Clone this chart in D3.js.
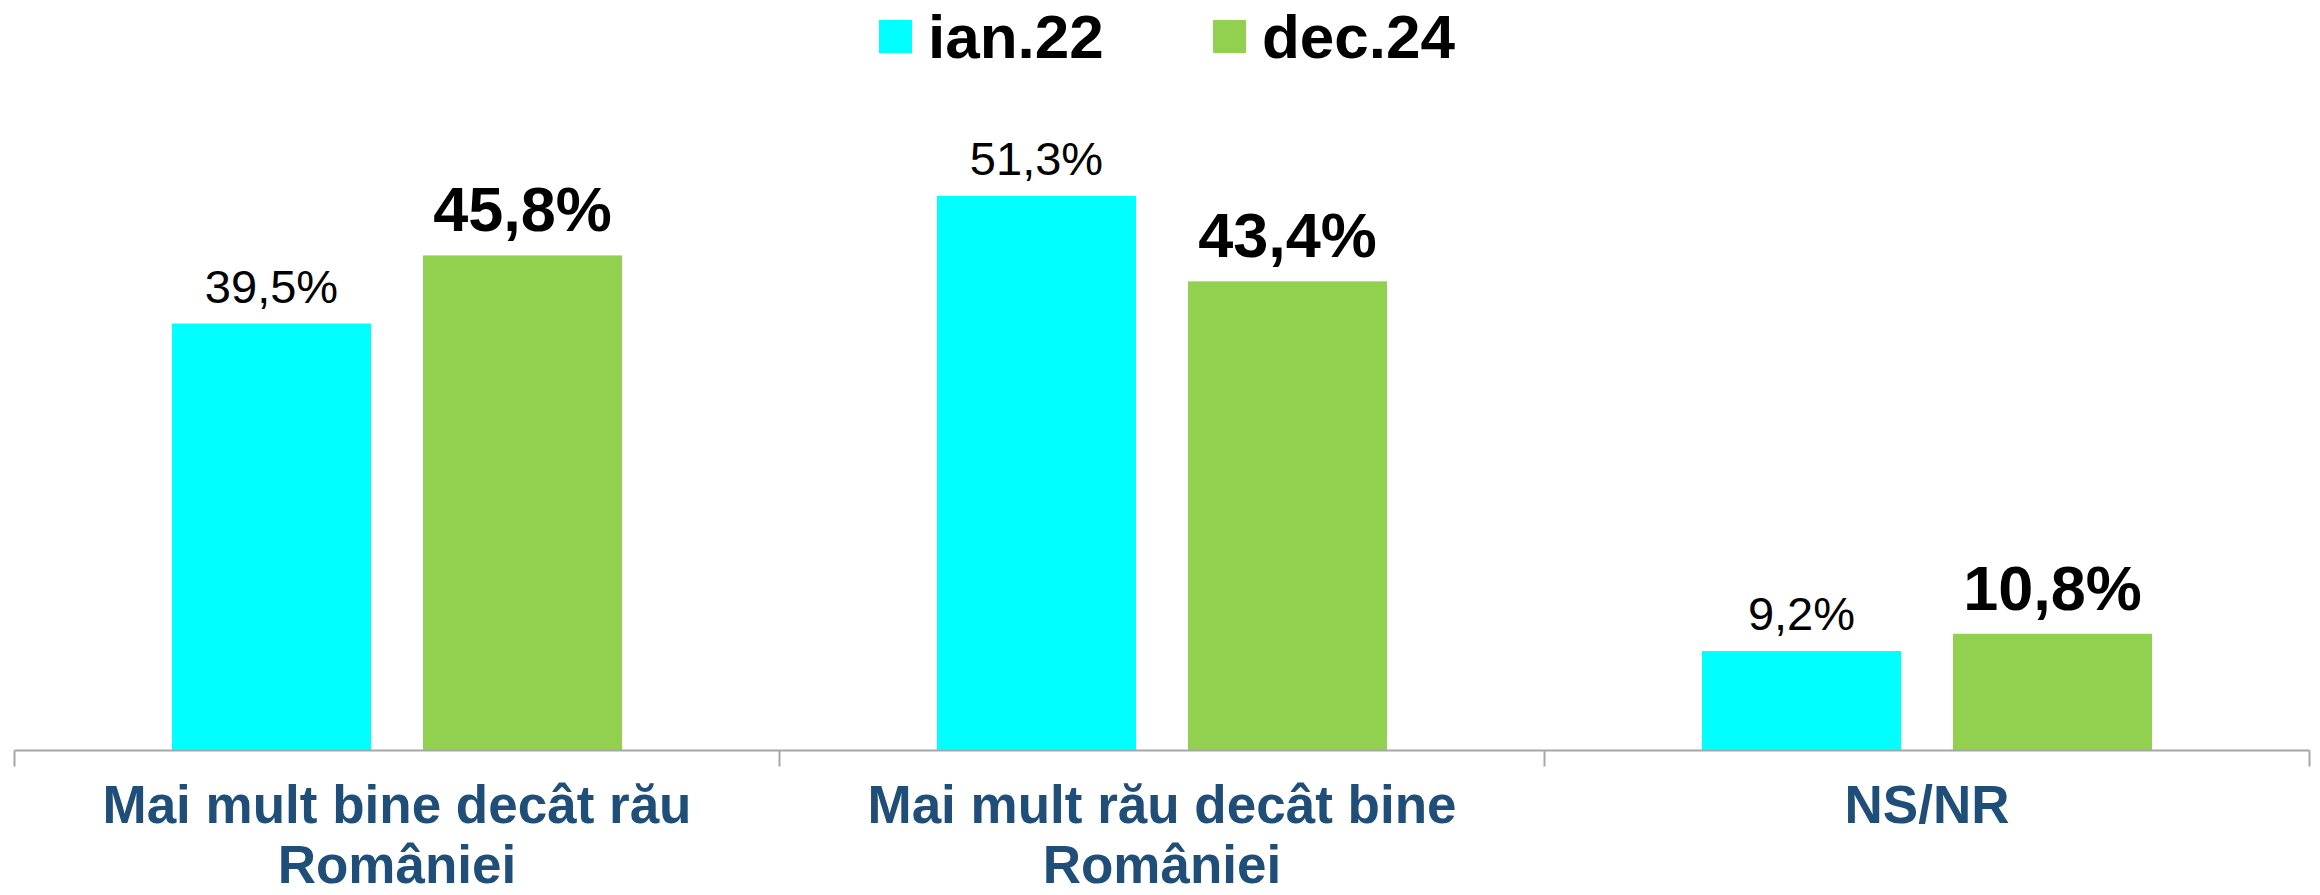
<!DOCTYPE html>
<html>
<head>
<meta charset="utf-8">
<script src="https://cdn.jsdelivr.net/npm/d3@7"></script>
<style>
  html, body { margin: 0; padding: 0; background: #fff; }
  svg { display: block; }
  text { font-family: "Liberation Sans", Arial, sans-serif; }
</style>
</head>
<body>
<svg id="chart" width="2320" height="895"></svg>
<script>
// ---- Data ----
const categories = [
  ["Mai mult bine decât rău", "României"],
  ["Mai mult rău decât bine", "României"],
  ["NS/NR"]
];
const series = ["ian.22", "dec.24"];
const valuesIan22 = [39.5, 51.3, 9.2];
const valuesDec24 = [45.8, 43.4, 10.8];
const seriesValues = [valuesIan22, valuesDec24];
const colors = ["#00FFFF", "#92D050"];

// ---- Layout ----
const axisLeft = 14.5, axisRight = 2309.5, baseline = 750.5;
const svg = d3.select("#chart");

const catKeys = categories.map((c, i) => i);
const x0 = d3.scaleBand().domain(catKeys).range([axisLeft, axisRight]).paddingInner(0).paddingOuter(0);
const step = x0.bandwidth();
const x1 = d3.scaleBand().domain(series).range([157.5, step - 157.5]).paddingInner(52 / 251).paddingOuter(0);
const y = d3.scaleLinear().domain([0, 60]).range([baseline, baseline - 60 * 10.81]);

const fmt = v => d3.format(".1f")(v).replace(".", ",") + "%";

// Bars
const groups = svg.selectAll("g.cat").data(catKeys).enter().append("g")
  .attr("class", "cat").attr("transform", d => `translate(${x0(d)},0)`);

series.forEach((s, si) => {
  groups.append("rect")
    .attr("x", x1(s))
    .attr("y", d => y(seriesValues[si][d]))
    .attr("width", x1.bandwidth())
    .attr("height", d => y(0) - y(seriesValues[si][d]))
    .attr("fill", colors[si]);

  groups.append("text")
    .attr("x", x1(s) + x1.bandwidth() / 2)
    .attr("y", d => y(seriesValues[si][d]) - (si === 1 ? 24 : 21))
    .attr("text-anchor", "middle")
    .attr("font-size", si === 1 ? 63 : 47)
    .attr("font-weight", si === 1 ? "bold" : "normal")
    .attr("fill", "#000")
    .text(d => fmt(seriesValues[si][d]));
});

// Axis
const axisG = svg.append("g").attr("transform", `translate(0,${baseline})`);
const boundaries = d3.range(categories.length + 1).map(i => axisLeft + i * step);
axisG.append("line").attr("x1", axisLeft).attr("x2", axisRight).attr("y1", 0).attr("y2", 0)
  .attr("stroke", "#A6A6A6").attr("stroke-width", 2);
axisG.selectAll("line.tick").data(boundaries).enter().append("line")
  .attr("class", "tick")
  .attr("x1", d => d).attr("x2", d => d).attr("y1", 0).attr("y2", 16)
  .attr("stroke", "#A6A6A6").attr("stroke-width", 2);

// Category labels
const labels = svg.selectAll("text.cat").data(catKeys).enter().append("text")
  .attr("class", "cat")
  .attr("x", d => x0(d) + step / 2)
  .attr("y", 823)
  .attr("text-anchor", "middle")
  .attr("font-size", 53)
  .attr("font-weight", "bold")
  .attr("fill", "#1F4E79");
labels.each(function(d) {
  const t = d3.select(this);
  categories[d].forEach((line, li) => {
    t.append("tspan").attr("x", x0(d) + step / 2).attr("y", 823 + li * 60).text(line);
  });
});

// Legend
const legendX = [879, 1213];
series.forEach((s, si) => {
  svg.append("rect").attr("x", legendX[si]).attr("y", 20).attr("width", 33).attr("height", 33)
    .attr("fill", colors[si]);
  svg.append("text").attr("x", legendX[si] + 49).attr("y", 58)
    .attr("font-size", 62).attr("font-weight", "bold").attr("fill", "#000").text(s);
});
</script>
</body>
</html>
